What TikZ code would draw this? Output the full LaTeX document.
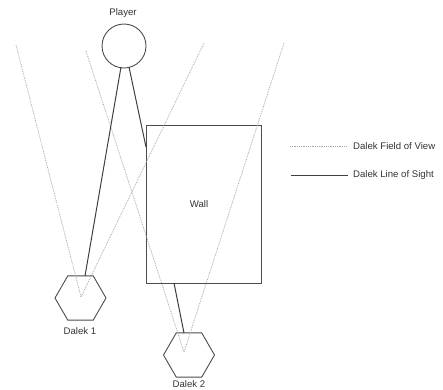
\documentclass[tikz,border=0pt]{standalone}
\usepackage{fontspec}
\setmainfont{Liberation Sans}
\usetikzlibrary{shapes.geometric}
\begin{document}
\begin{tikzpicture}[x=1pt,y=-1pt,
  shp/.style={draw=black!70,line width=0.9pt},
  sight/.style={draw=black!75,line width=1pt},
  fov/.style={draw=black!35,densely dotted,line width=0.8pt},
  lbl/.style={font=\fontsize{9.6}{11}\selectfont,text=black!80,inner sep=0pt},
  hexa/.style={shp,regular polygon,regular polygon sides=6,minimum size=51pt,inner sep=0pt}]
\useasboundingbox (0,0) rectangle (443,389);
% player
\node[shp,circle,minimum size=44pt,inner sep=0pt] (player) at (124,46) {};
\node[lbl] (plabel) at (123,13) {Player};
% wall
\node[shp,rectangle,minimum width=115pt,minimum height=158pt,inner sep=0pt] (wall) at (203.5,204) {};
\node[lbl] (wlabel) at (199,204) {Wall};
% daleks
\node[hexa] (d1) at (80.5,298) {};
\node[lbl] (d1label) at (80,331) {Dalek 1};
\node[hexa] (d2) at (189,355) {};
\node[lbl] (d2label) at (189,384.5) {Dalek 2};
% FOV points
\coordinate (a1) at (81,297);
\coordinate (f1l) at (16,45);
\coordinate (f1r) at (204,43);
\coordinate (a2) at (184,352);
\coordinate (f2l) at (86,51);
\coordinate (f2r) at (284,43);
\draw[fov] (f1l) -- (a1) -- (f1r);
\draw[fov] (f2l) -- (a2) -- (f2r);
% line of sight
\coordinate (s1a) at (85,276);
\coordinate (p1) at (121,67);
\coordinate (p2) at (129,67);
\coordinate (wl) at (146,147);
\coordinate (wb) at (174,283);
\coordinate (s2a) at (184,333);
\draw[sight] (s1a) -- (p1);
\draw[sight] (p2) -- (wl);
\draw[sight] (wb) -- (s2a);
% legend
\coordinate (l1a) at (290,146);
\coordinate (l1b) at (347,146);
\coordinate (l2a) at (291,175);
\coordinate (l2b) at (348,175);
\draw[fov] (l1a) -- (l1b);
\draw[sight] (l2a) -- (l2b);
\node[lbl,anchor=west] (leg1) at (353,146) {Dalek Field of View};
\node[lbl,anchor=west] (leg2) at (353,175) {Dalek Line of Sight};
\end{tikzpicture}
\end{document}
